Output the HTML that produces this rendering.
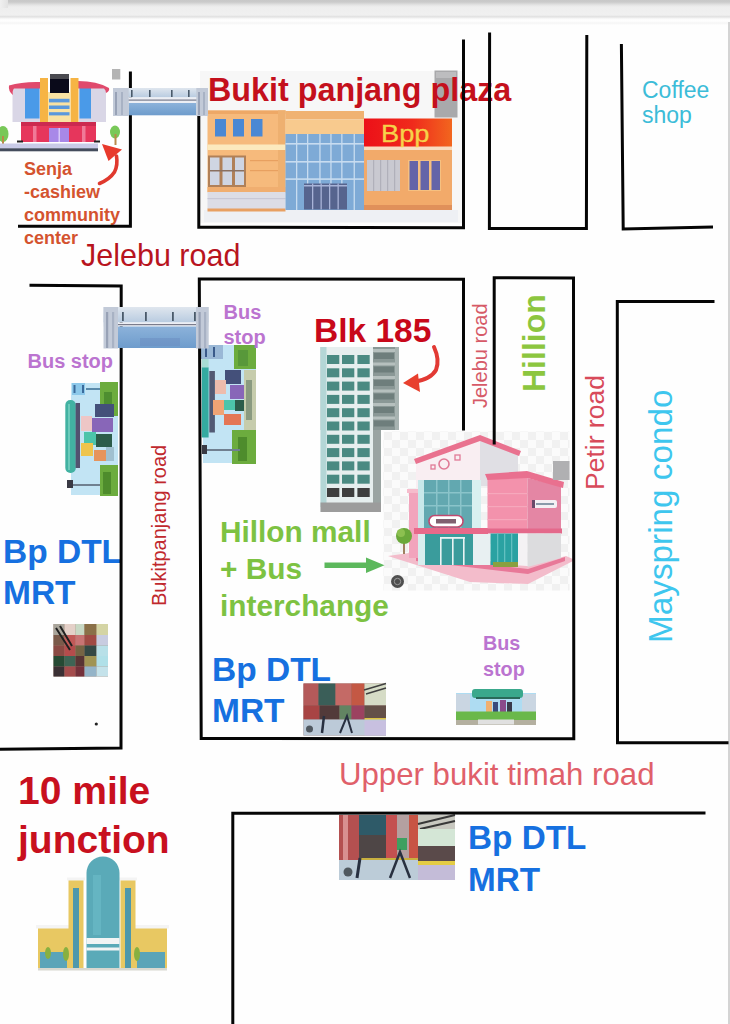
<!DOCTYPE html>
<html><head><meta charset="utf-8">
<style>
*{margin:0;padding:0;box-sizing:border-box}
html,body{width:730px;height:1024px;overflow:hidden;background:#fefefe}
body{position:relative;font-family:"Liberation Sans",sans-serif}
.a{position:absolute}
.t{position:absolute;white-space:nowrap;line-height:1}
.b{font-weight:bold}
.ln{position:absolute;background:#050505}
.rot{transform-origin:0 0;transform:rotate(-90deg)}
</style></head><body>
<!-- top bar -->
<div class="a" style="left:0;top:0;width:730px;height:25px;background:linear-gradient(#c8c8c8 0px,#cacaca 2px,#e4e4e4 5px,#eeeeee 7px,#f0f0f0 15px,#e1e1e1 16.7px,#fbfbfb 19px,#fefefe 21px,#f5f5f5 23px,#fefefe 25px)"></div>
<div class="a" style="left:0;top:0;width:8px;height:8px;background:linear-gradient(90deg,#f0f0f0,#e2e2e2)"></div>
<div class="a" style="left:728px;top:22px;width:2px;height:1002px;background:#d4d4d4"></div>

<svg class="a" style="left:0;top:0" width="730" height="1024" viewBox="0 0 730 1024"><!-- ===== Community center ===== -->
<g>
<ellipse cx="3" cy="134" rx="5.5" ry="8" fill="#78c858"/>
<rect x="2" y="136" width="2" height="10" fill="#b98a4a"/>
<ellipse cx="115" cy="132" rx="5" ry="6.5" fill="#78c858"/>
<rect x="114.5" y="134" width="2" height="11" fill="#b98a4a"/>
<rect x="12.5" y="87" width="27.5" height="35" fill="#d9d6e6"/>
<rect x="79" y="87" width="27" height="35" fill="#d9d6e6"/>
<rect x="25" y="88" width="14.5" height="30.5" fill="#4a9ae8"/>
<rect x="79.5" y="87.5" width="11.5" height="31" fill="#4a9ae8"/>
<path d="M9,85.5 Q22,81.5 40,82 L40,88.5 L14,88.5 Q12,91 13,95 Q8,91 9,85.5Z" fill="#e04a6c"/>
<path d="M109,88 Q97,81 78,81 L78,88.5 L104,88.5 Q106,90 106,93 Q110,91 109,88Z" fill="#e04a6c"/>
<rect x="40" y="78" width="8" height="44" fill="#f6b444"/>
<rect x="70.5" y="78" width="8" height="44" fill="#f6b444"/>
<rect x="48" y="92" width="22.5" height="30" fill="#f9e2a2"/>
<rect x="49" y="98.8" width="20.5" height="3.6" fill="#5a98dc"/>
<rect x="49" y="105.5" width="20.5" height="3.5" fill="#5a98dc"/>
<rect x="49" y="112.2" width="20.5" height="3.2" fill="#5a98dc"/>
<rect x="50" y="74" width="19" height="5" fill="#4a4a50"/>
<rect x="50" y="79" width="19" height="14" fill="#0a0a1a"/>
<rect x="21" y="122" width="75" height="20" fill="#e6365c"/>
<rect x="21" y="122" width="75" height="4" fill="#cc2a50"/>
<rect x="33" y="126" width="3.5" height="16" fill="#f07a98"/>
<rect x="82" y="126" width="3.5" height="16" fill="#f07a98"/>
<rect x="49" y="128" width="20" height="14" fill="#a888e8"/>
<rect x="58.5" y="128" width="1.5" height="14" fill="#d8c8f8"/>
<rect x="17" y="140.5" width="6" height="2" fill="#222"/>
<rect x="94" y="140.5" width="6" height="2" fill="#222"/>
<rect x="0" y="143.5" width="98" height="5" fill="#c9cbe7"/>
<rect x="0" y="148.3" width="98" height="3" fill="#444c5c"/>
<rect x="112" y="69" width="8.3" height="10.5" fill="#b4b4b4"/>
</g>
<!-- red curved arrow (community) -->
<path d="M99.5,183.5 Q110,179 114.5,172 Q118,165 116.5,156" fill="none" stroke="#e0392e" stroke-width="3.6" stroke-linecap="round"/>
<path d="M102,144 L122,149.5 L108.5,161Z" fill="#e83a2c"/>
<!-- ===== Bukit panjang plaza image ===== -->
<g>
<rect x="200" y="71" width="262" height="152" fill="#f7f7f7"/>
<rect x="204" y="210" width="254" height="12" fill="#eef0f4"/>
<!-- left block -->
<rect x="207.5" y="110.5" width="78" height="82" fill="#f6ba7c"/>
<rect x="207.5" y="110.5" width="78" height="3.5" fill="#eea866"/>
<rect x="278" y="110.5" width="7.5" height="82" fill="#eeb070"/>
<rect x="215" y="119" width="11" height="17.5" fill="#4a88d4"/>
<rect x="233" y="119" width="11" height="17.5" fill="#4a88d4"/>
<rect x="251" y="119" width="11.5" height="17.5" fill="#4a88d4"/>
<rect x="207.5" y="144.5" width="78" height="5.5" fill="#fce9bd"/>
<rect x="208" y="155.5" width="38" height="31.5" fill="#b08058"/>
<rect x="210" y="157.5" width="9.5" height="27.5" fill="#cfd5e2"/>
<rect x="222.5" y="157.5" width="9.5" height="27.5" fill="#cfd5e2"/>
<rect x="235" y="157.5" width="9" height="27.5" fill="#cfd5e2"/>
<rect x="210" y="170" width="34" height="1.5" fill="#8a7060"/>
<rect x="250" y="160" width="28" height="1.2" fill="#e8a060"/>
<rect x="250" y="170" width="28" height="1.2" fill="#e8a060"/>
<rect x="207.5" y="187" width="78" height="5" fill="#f0ae70"/>
<rect x="207.5" y="192" width="78" height="17.5" fill="#dcdde6"/>
<rect x="207.5" y="198" width="78" height="1.2" fill="#c8c8d6"/>
<rect x="207.5" y="208.5" width="78" height="3" fill="#e8a062"/>
<!-- middle block -->
<rect x="285.5" y="111" width="78.5" height="8.5" fill="#f0b272"/>
<rect x="285.5" y="119.5" width="78.5" height="15" fill="#f8ca8e"/>
<rect x="285.5" y="134" width="78.5" height="76" fill="#7eaad6"/>
<g fill="#c8dcf0">
<rect x="285.5" y="143" width="78.5" height="1.6"/>
<rect x="285.5" y="161" width="78.5" height="1.6"/>
<rect x="285.5" y="178.3" width="78.5" height="1.6"/>
<rect x="296" y="134" width="1.3" height="76"/>
<rect x="307" y="134" width="1.3" height="50"/>
<rect x="319.3" y="134" width="1.3" height="50"/>
<rect x="330.3" y="134" width="1.3" height="50"/>
<rect x="341.2" y="134" width="1.3" height="50"/>
<rect x="353.6" y="134" width="1.3" height="76"/>
</g>
<rect x="304" y="183.5" width="43" height="26" fill="#56648e"/>
<g fill="#a8b4d8"><rect x="304" y="185" width="43" height="1.5"/><rect x="312" y="183.5" width="1.3" height="26"/><rect x="320.5" y="183.5" width="1.3" height="26"/><rect x="329" y="183.5" width="1.3" height="26"/><rect x="337.5" y="183.5" width="1.3" height="26"/></g>
<!-- right block -->
<rect x="364" y="146" width="88" height="64" fill="#f2aa6a"/>
<rect x="364" y="146" width="88" height="4" fill="#f8dcc0"/>
<rect x="367" y="160" width="33" height="31" fill="#c9c9d1"/>
<g fill="#b0b0ba"><rect x="373" y="160" width="1.2" height="31"/><rect x="380" y="160" width="1.2" height="31"/><rect x="387" y="160" width="1.2" height="31"/><rect x="394" y="160" width="1.2" height="31"/></g>
<rect x="408" y="160" width="33" height="31" fill="#f6c080"/>
<rect x="409.5" y="161" width="8.5" height="29" fill="#6464a8"/>
<rect x="420.5" y="161" width="8.5" height="29" fill="#6464a8"/>
<rect x="431.5" y="161" width="8.5" height="29" fill="#6464a8"/>
<rect x="364" y="205" width="88" height="5" fill="#e0905a"/>
<!-- sign -->
<defs><linearGradient id="sg" x1="0" x2="1" y1="0" y2="0"><stop offset="0" stop-color="#ec1018"/><stop offset="0.55" stop-color="#f02a1c"/><stop offset="1" stop-color="#f2661e"/></linearGradient></defs>
<rect x="364" y="118.5" width="88" height="28" fill="url(#sg)"/>
<rect x="434.5" y="70.5" width="23" height="47" fill="#a9a9ab"/>
<rect x="436" y="72" width="20" height="6" fill="#bdbdbf"/>
</g>
<text x="381" y="141.5" font-family="Liberation Sans" font-size="24" fill="#f6d24a" stroke="#f6d24a" stroke-width="0.3" textLength="48.5" lengthAdjust="spacingAndGlyphs">Bpp</text>
<!-- ===== Bus stop left (rotated) ===== -->
<g>
<rect x="71" y="383" width="47" height="112" fill="#c2e4f4"/>
<rect x="72" y="383" width="13" height="12" fill="#8cc8ea"/>
<rect x="73.5" y="385" width="2" height="8" fill="#3a6a9a"/>
<rect x="82" y="385" width="2" height="8" fill="#3a6a9a"/>
<rect x="86" y="388" width="14" height="2" fill="#5a8aaa"/>
<rect x="100" y="382" width="18" height="34" fill="#6cac3e"/>
<rect x="104" y="392" width="8" height="20" fill="#4e8e30"/>
<rect x="100" y="465" width="18" height="31" fill="#6cac3e"/>
<rect x="103" y="472" width="8" height="22" fill="#4e8c2c"/>
<rect x="65.3" y="400" width="10.5" height="73" rx="5" fill="#42b2a2"/>
<rect x="68" y="404" width="2" height="66" fill="#6ccaba"/>
<rect x="75.6" y="403" width="4.4" height="65" fill="#525270"/>
<rect x="95" y="404" width="19" height="13" fill="#44507a"/>
<rect x="81" y="416" width="11" height="15" fill="#eec6c6"/>
<rect x="92" y="418" width="21" height="14" fill="#8866b8"/>
<rect x="84" y="432" width="12" height="13" fill="#4cc4aa"/>
<rect x="96" y="434" width="16" height="13" fill="#2c5c4a"/>
<rect x="81" y="443" width="12" height="13" fill="#eec44c"/>
<rect x="94" y="450" width="12" height="11" fill="#e6945c"/>
<rect x="106" y="447" width="8" height="14" fill="#a0c0d0"/>
<rect x="72" y="484" width="28" height="2" fill="#708090"/>
<rect x="67" y="480" width="6" height="8" fill="#3a3a44"/>
</g>
<!-- ===== Bus stop right (rotated) ===== -->
<g>
<rect x="203" y="345" width="53" height="118" fill="#c2e4f4"/>
<rect x="201" y="345" width="22" height="14" fill="#9ab8d6"/>
<rect x="205" y="347" width="2" height="10" fill="#3a5a8a"/>
<rect x="213" y="347" width="2" height="10" fill="#3a5a8a"/>
<rect x="234" y="345" width="22" height="24" fill="#6cac3e"/>
<rect x="238" y="350" width="10" height="16" fill="#58983a"/>
<rect x="232" y="430" width="24" height="34" fill="#6cac3e"/>
<rect x="238" y="437" width="9" height="24" fill="#4e8c2c"/>
<rect x="201.8" y="359" width="6.8" height="9" fill="#a8dcd4"/>
<rect x="201.8" y="367.5" width="6.8" height="70" fill="#34aaa0"/>
<rect x="209.3" y="371" width="5.6" height="61.5" fill="#525a74"/>
<rect x="225" y="370" width="16" height="14" fill="#44507a"/>
<rect x="215" y="380" width="11" height="14" fill="#eebcac"/>
<rect x="230" y="385" width="16" height="14" fill="#8866b8"/>
<rect x="224" y="400" width="11" height="10" fill="#4cc4aa"/>
<rect x="213" y="400" width="11" height="15" fill="#f0a474"/>
<rect x="235" y="400" width="11" height="11" fill="#2c5c4a"/>
<rect x="224" y="414" width="17" height="11" fill="#e47654"/>
<rect x="244" y="370" width="12" height="60" fill="#c6ccac"/>
<rect x="246" y="380" width="6" height="40" fill="#8a9a80"/>
<rect x="206" y="449" width="34" height="2" fill="#708090"/>
<rect x="202" y="445" width="5" height="9" fill="#3a3a44"/>
</g>
<!-- ===== Blk 185 ===== -->
<g>
<rect x="320.5" y="347" width="78" height="83" fill="#8a9a98"/>
<rect x="320.5" y="347" width="60" height="165" fill="#e6eeee"/>
<rect x="320.5" y="347" width="6" height="160" fill="#b4d6d6"/>
<rect x="373" y="347" width="25.5" height="83" fill="#8a9896"/>
<rect x="373" y="349.0" width="25.5" height="3" fill="#b6c0be"/>
<rect x="374" y="353.0" width="20" height="6" fill="#6e7e7c"/>
<rect x="373" y="362.5" width="25.5" height="3" fill="#b6c0be"/>
<rect x="374" y="366.5" width="20" height="6" fill="#6e7e7c"/>
<rect x="373" y="376.0" width="25.5" height="3" fill="#b6c0be"/>
<rect x="374" y="380.0" width="20" height="6" fill="#6e7e7c"/>
<rect x="373" y="389.5" width="25.5" height="3" fill="#b6c0be"/>
<rect x="374" y="393.5" width="20" height="6" fill="#6e7e7c"/>
<rect x="373" y="403.0" width="25.5" height="3" fill="#b6c0be"/>
<rect x="374" y="407.0" width="20" height="6" fill="#6e7e7c"/>
<rect x="373" y="416.5" width="25.5" height="3" fill="#b6c0be"/>
<rect x="374" y="420.5" width="20" height="6" fill="#6e7e7c"/>
<rect x="395" y="347" width="3.5" height="83" fill="#a8b4b2"/>
<rect x="373" y="430" width="8" height="73" fill="#9aa4a2"/>
<rect x="381" y="430" width="0" height="0"/>
</g>
<g fill="#4a8a82">
<rect x="327" y="355.0" width="12.3" height="9" fill="#4a8a82"/>
<rect x="342" y="355.0" width="12.3" height="9" fill="#4a8a82"/>
<rect x="357.4" y="355.0" width="12.3" height="9" fill="#4a8a82"/>
<rect x="327" y="368.3" width="12.3" height="9" fill="#4a8a82"/>
<rect x="342" y="368.3" width="12.3" height="9" fill="#4a8a82"/>
<rect x="357.4" y="368.3" width="12.3" height="9" fill="#4a8a82"/>
<rect x="327" y="381.6" width="12.3" height="9" fill="#4a8a82"/>
<rect x="342" y="381.6" width="12.3" height="9" fill="#4a8a82"/>
<rect x="357.4" y="381.6" width="12.3" height="9" fill="#4a8a82"/>
<rect x="327" y="394.9" width="12.3" height="9" fill="#4a8a82"/>
<rect x="342" y="394.9" width="12.3" height="9" fill="#4a8a82"/>
<rect x="357.4" y="394.9" width="12.3" height="9" fill="#4a8a82"/>
<rect x="327" y="408.2" width="12.3" height="9" fill="#4a8a82"/>
<rect x="342" y="408.2" width="12.3" height="9" fill="#4a8a82"/>
<rect x="357.4" y="408.2" width="12.3" height="9" fill="#4a8a82"/>
<rect x="327" y="421.5" width="12.3" height="9" fill="#4a8a82"/>
<rect x="342" y="421.5" width="12.3" height="9" fill="#4a8a82"/>
<rect x="357.4" y="421.5" width="12.3" height="9" fill="#4a8a82"/>
<rect x="327" y="434.8" width="12.3" height="9" fill="#4a8a82"/>
<rect x="342" y="434.8" width="12.3" height="9" fill="#4a8a82"/>
<rect x="357.4" y="434.8" width="12.3" height="9" fill="#4a8a82"/>
<rect x="327" y="448.1" width="12.3" height="9" fill="#4a8a82"/>
<rect x="342" y="448.1" width="12.3" height="9" fill="#4a8a82"/>
<rect x="357.4" y="448.1" width="12.3" height="9" fill="#4a8a82"/>
<rect x="327" y="461.4" width="12.3" height="9" fill="#4a8a82"/>
<rect x="342" y="461.4" width="12.3" height="9" fill="#4a8a82"/>
<rect x="357.4" y="461.4" width="12.3" height="9" fill="#4a8a82"/>
<rect x="327" y="474.7" width="12.3" height="9" fill="#4a8a82"/>
<rect x="342" y="474.7" width="12.3" height="9" fill="#4a8a82"/>
<rect x="357.4" y="474.7" width="12.3" height="9" fill="#4a8a82"/>
<rect x="327" y="488.0" width="12.3" height="9" fill="#3e3e3e"/>
<rect x="342" y="488.0" width="12.3" height="9" fill="#3e3e3e"/>
<rect x="357.4" y="488.0" width="12.3" height="9" fill="#3e3e3e"/>
</g>
<rect x="320.5" y="502.5" width="60.5" height="9.5" fill="#9c9c9c"/>
<!-- Blk arrow -->
<path d="M434,347 Q440,360 436,370 Q431,379 414,382" fill="none" stroke="#e23a34" stroke-width="4" stroke-linecap="round"/>
<path d="M403,383 L418,373.5 L420,392Z" fill="#e8402e"/>
<!-- ===== Hillion mall ===== -->
<defs>
<pattern id="chk" x="0" y="0" width="16" height="16" patternUnits="userSpaceOnUse">
<rect width="16" height="16" fill="#fbfbfb"/><rect width="8" height="8" fill="#f1f1f1"/><rect x="8" y="8" width="8" height="8" fill="#f1f1f1"/>
</pattern>
</defs>
<rect x="383.5" y="431.5" width="186" height="159" fill="url(#chk)"/>
<g>
<!-- ground platform -->
<path d="M388,556 L416,552 L528,566 L566,556 L575,560 L528,584 L470,582 Z" fill="#f3bccb"/>
<path d="M416,556 L528,569 L565,557 L565,561 L528,574 L416,561Z" fill="#e87898"/>
<!-- upper front block -->
<path d="M416,461 L480,438 L480,486 L416,492Z" fill="#f9eef2"/>
<path d="M480,438 L518,452 L518,486 L480,486Z" fill="#e0dfe4"/>
<path d="M414,459 L480,435 L521,451 L519,456 L480,441 L416,464Z" fill="#e9728f"/>
<circle cx="444" cy="464" r="5" fill="none" stroke="#e07a96" stroke-width="1.6"/>
<rect x="431" y="465" width="4" height="4" fill="none" stroke="#e07a96" stroke-width="1.3"/>
<rect x="455" y="455" width="5" height="5" fill="none" stroke="#e07a96" stroke-width="1.3"/>
<!-- pillar left -->
<rect x="409" y="491" width="9" height="67" fill="#f2a4bc"/>
<rect x="407" y="489" width="13" height="4" fill="#f6bccc"/>
<!-- teal glass upper -->
<rect x="418" y="480" width="62" height="48" fill="#c8e8ea"/>
<rect x="424" y="480" width="48" height="48" fill="#62a8b0"/>
<g fill="#8ac4ca"><rect x="424" y="492" width="48" height="1.5"/><rect x="424" y="505" width="48" height="1.5"/><rect x="436" y="480" width="1.5" height="48"/><rect x="448" y="480" width="1.5" height="48"/><rect x="460" y="480" width="1.5" height="48"/></g>
<rect x="472" y="480" width="9" height="53" fill="#d8f0f0"/>
<!-- MALL sign -->
<rect x="429" y="515.5" width="34" height="11.5" rx="5.7" fill="#fff" stroke="#c04a70" stroke-width="1.6"/>
<rect x="436" y="519" width="20" height="4.5" fill="#806070"/>
<!-- pink band -->
<rect x="414" y="528" width="74" height="6" fill="#e8698a"/>
<!-- lower glass -->
<rect x="418" y="534" width="55" height="31" fill="#3a9c9c"/>
<g fill="#e8f4f4"><rect x="440" y="537" width="1.6" height="28"/><rect x="452" y="537" width="1.6" height="28"/><rect x="463" y="537" width="1.6" height="28"/><rect x="440" y="537" width="25" height="1.8"/></g>
<rect x="418" y="534" width="7" height="31" fill="#d8eeee"/>
<rect x="473" y="534" width="17" height="31" fill="#e8f0f2"/>
<!-- right wing -->
<rect x="487.5" y="478" width="40" height="53" fill="#f392ac"/>
<g fill="#f6a8bc"><rect x="487.5" y="493" width="40" height="1.2"/><rect x="487.5" y="506" width="40" height="1.2"/><rect x="487.5" y="519" width="40" height="1.2"/></g>
<path d="M527.5,478 L561,486 L561,530 L527.5,531Z" fill="#e486a4"/>
<path d="M485,474 L527,471 L564,482 L563,488 L527.5,478 L487.5,480Z" fill="#e9708f"/>
<rect x="532" y="500" width="25" height="8" rx="2" fill="#f4f0f4"/>
<rect x="532" y="500" width="3" height="8" fill="#6a4a6a"/>
<rect x="536" y="503" width="18" height="2" fill="#8a9aaa"/>
<rect x="487" y="528.5" width="75" height="5" fill="#e4698b"/>
<rect x="490.5" y="533.5" width="27.5" height="31.5" fill="#2aa2a2"/>
<g fill="#62c0c0"><rect x="497" y="533.5" width="1.3" height="31"/><rect x="504" y="533.5" width="1.3" height="31"/><rect x="511" y="533.5" width="1.3" height="31"/></g>
<rect x="518" y="533.5" width="9.5" height="32" fill="#f4f2f4"/>
<path d="M527.5,533.5 L561,533.5 L561,558 L527.5,567Z" fill="#dcdcde"/>
<rect x="493" y="562" width="25" height="5" fill="#8aa040"/>
<!-- AC -->
<rect x="553" y="461" width="16.5" height="19" fill="#b0b0b2"/>
<!-- tree -->
<rect x="403" y="540" width="2" height="14" fill="#a08060"/>
<circle cx="404" cy="536" r="8" fill="#6aa83a"/>
<circle cx="401" cy="533" r="4" fill="#8cc050"/>
</g>
<!-- grey circle icon -->
<circle cx="397.5" cy="581.5" r="6.5" fill="#4e4e4e"/>
<circle cx="397.5" cy="581.5" r="3.2" fill="none" stroke="#9a9a9a" stroke-width="1"/>
<!-- green arrow -->
<rect x="324.5" y="562.5" width="45" height="5.5" fill="#5cb85c"/>
<path d="M366,557.5 L384.5,565.2 L366,573Z" fill="#5cb85c"/>
<!-- ===== small MRT photo (left) ===== -->
<g>
<rect x="53.5" y="624" width="54.5" height="52.5" fill="#a08070"/>
<rect x="53.5" y="624" width="11" height="11" fill="#a8a49a"/>
<rect x="64.5" y="624" width="11" height="11" fill="#e4d0c8"/>
<rect x="75.5" y="624" width="9" height="11" fill="#c8d8c4"/>
<rect x="84.5" y="624" width="12" height="11" fill="#8a7048"/>
<rect x="96.5" y="624" width="11.5" height="11" fill="#d4d4a4"/>
<rect x="53.5" y="635" width="11" height="10.5" fill="#7a5a4a"/>
<rect x="64.5" y="635" width="11" height="10.5" fill="#c25a58"/>
<rect x="75.5" y="635" width="9" height="10.5" fill="#c87474"/>
<rect x="84.5" y="635" width="12" height="10.5" fill="#a04a44"/>
<rect x="96.5" y="635" width="11.5" height="10.5" fill="#c8cce0"/>
<rect x="53.5" y="645.5" width="11" height="10.5" fill="#8a4a44"/>
<rect x="64.5" y="645.5" width="11" height="10.5" fill="#b44c4c"/>
<rect x="75.5" y="645.5" width="9" height="10.5" fill="#766444"/>
<rect x="84.5" y="645.5" width="12" height="10.5" fill="#344844"/>
<rect x="96.5" y="645.5" width="11.5" height="10.5" fill="#b8e0e8"/>
<rect x="53.5" y="656" width="11" height="10.5" fill="#264a34"/>
<rect x="64.5" y="656" width="11" height="10.5" fill="#3e6454"/>
<rect x="75.5" y="656" width="9" height="10.5" fill="#583434"/>
<rect x="84.5" y="656" width="12" height="10.5" fill="#a09454"/>
<rect x="96.5" y="656" width="11.5" height="10.5" fill="#b0e0e8"/>
<rect x="53.5" y="666.5" width="11" height="10" fill="#3a3034"/>
<rect x="64.5" y="666.5" width="11" height="10" fill="#a44c4c"/>
<rect x="75.5" y="666.5" width="9" height="10" fill="#74303a"/>
<rect x="84.5" y="666.5" width="12" height="10" fill="#94b4c8"/>
<rect x="96.5" y="666.5" width="11.5" height="10" fill="#c4e2ea"/>
<path d="M56,628 L70,650 M60,626 L72,646" stroke="#202020" stroke-width="2"/>
</g>
<!-- ===== MRT photo 2 (middle) ===== -->
<g>
<rect x="303.5" y="683.5" width="82.5" height="52" fill="#8a6a64"/>
<rect x="303.5" y="683.5" width="15" height="22" fill="#b45a5a"/>
<rect x="318.5" y="683.5" width="17" height="22" fill="#3a5e58"/>
<rect x="335.5" y="683.5" width="16" height="22" fill="#c46a66"/>
<rect x="351.5" y="683.5" width="13" height="22" fill="#c45844"/>
<rect x="364.5" y="683.5" width="21.5" height="22" fill="#d6dcc6"/>
<path d="M364,690 L386,683.5 M366,694 L386,688" stroke="#404040" stroke-width="1.5"/>
<rect x="303.5" y="705.5" width="16" height="14" fill="#a84444"/>
<rect x="319.5" y="705.5" width="20" height="14" fill="#523a3a"/>
<rect x="339.5" y="705.5" width="12" height="14" fill="#628462"/>
<rect x="351.5" y="705.5" width="13" height="14" fill="#9c4260"/>
<rect x="364.5" y="705.5" width="21.5" height="14" fill="#645048"/>
<rect x="364.5" y="718" width="21.5" height="2.5" fill="#dcc244"/>
<rect x="303.5" y="719.5" width="82.5" height="16" fill="#bccad8"/>
<rect x="364.5" y="720.5" width="21.5" height="15" fill="#c8c0e0"/>
<path d="M340,733 L347,716 L352,733" fill="none" stroke="#283040" stroke-width="2"/>
<path d="M322,733 L324,716" stroke="#283040" stroke-width="2.5"/>
<circle cx="309.5" cy="729" r="3.5" fill="#505860"/>
</g>
<!-- ===== Bus stop icon ===== -->
<g>
<rect x="456" y="693" width="80" height="19" fill="#aedcf2"/>
<rect x="456" y="694" width="14" height="18" fill="#cad6e2"/>
<rect x="522" y="694" width="14" height="18" fill="#cad6e2"/>
<rect x="472" y="689" width="51" height="9" rx="3" fill="#3aa88c"/>
<rect x="476" y="697" width="44" height="2" fill="#2a6a5a"/>
<rect x="486" y="701" width="6" height="12" fill="#f0b070"/>
<rect x="493" y="702" width="5" height="11" fill="#3a4a7a"/>
<rect x="500" y="700" width="6" height="13" fill="#8a4a8a"/>
<rect x="507" y="702" width="5" height="11" fill="#3a3a4a"/>
<rect x="456" y="711.5" width="80" height="8.5" fill="#6ab84a"/>
<rect x="456" y="720" width="80" height="5" fill="#b4b0a0"/>
<rect x="478" y="719.5" width="36" height="5" fill="#e0e0e0"/>
</g>
<!-- ===== 10 mile junction ===== -->
<g>
<rect x="38" y="927.5" width="31" height="42.5" fill="#e8c862"/>
<rect x="135" y="927.5" width="32" height="42.5" fill="#e8c862"/>
<rect x="36" y="925" width="34" height="3.5" fill="#f4f4f4"/>
<rect x="134" y="925" width="35" height="3.5" fill="#f4f4f4"/>
<rect x="40" y="952" width="27" height="17" fill="#5aa4b8"/>
<rect x="137" y="952" width="28" height="17" fill="#5aa4b8"/>
<rect x="68.5" y="880" width="15" height="90" fill="#e8c862"/>
<rect x="120.5" y="880" width="15" height="90" fill="#e8c862"/>
<rect x="67" y="877.5" width="18" height="3" fill="#f4f4f4"/>
<rect x="119" y="877.5" width="18" height="3" fill="#f4f4f4"/>
<rect x="73" y="888" width="6" height="82" fill="#4e98ac"/>
<rect x="125" y="888" width="6" height="82" fill="#4e98ac"/>
<path d="M86.5,970 L86.5,873 A16.5,16.5 0 0 1 119.5,873 L119.5,970Z" fill="#5aaab8"/>
<rect x="93" y="875" width="8" height="60" fill="#6cbcc8" opacity="0.6"/>
<rect x="86.5" y="938" width="33" height="6" fill="#f2f4f4"/>
<rect x="86.5" y="947.5" width="33" height="3" fill="#f2f4f4"/>
<ellipse cx="48" cy="953" rx="3" ry="6" fill="#88b040"/>
<ellipse cx="66" cy="954" rx="3" ry="7" fill="#88b040"/>
<ellipse cx="137" cy="954" rx="3" ry="7" fill="#88b040"/>
<rect x="38" y="968" width="129" height="2.5" fill="#d8d8d0"/>
</g>
<!-- ===== MRT photo 3 (bottom) ===== -->
<g>
<rect x="339" y="815" width="116" height="65" fill="#8a7068"/>
<rect x="339" y="815" width="20" height="45" fill="#b45050"/>
<rect x="343" y="815" width="5" height="45" fill="#d89090"/>
<rect x="359" y="815" width="27" height="20" fill="#2e5a68"/>
<rect x="359" y="835" width="27" height="24" fill="#4e4646"/>
<rect x="386" y="815" width="11" height="45" fill="#c45050"/>
<rect x="397" y="815" width="12" height="45" fill="#b4a0a0"/>
<rect x="397" y="838" width="10" height="12" fill="#3ea060"/>
<rect x="409" y="815" width="9" height="45" fill="#c85444"/>
<rect x="418" y="815" width="37" height="14" fill="#c8c8c0"/>
<path d="M418,824 L455,815 M420,829 L455,821" stroke="#383838" stroke-width="2"/>
<rect x="418" y="829" width="37" height="17" fill="#d4e6d6"/>
<rect x="418" y="846" width="37" height="16" fill="#5a4a4a"/>
<rect x="359" y="858" width="59" height="3" fill="#c8b040"/>
<rect x="418" y="861" width="37" height="4" fill="#e4cc44"/>
<rect x="339" y="860" width="79" height="20" fill="#bcccd8"/>
<rect x="418" y="865" width="37" height="15" fill="#c4bcd8"/>
<path d="M390,878 L400,852 L410,878" fill="none" stroke="#283040" stroke-width="2.5"/>
<path d="M357,878 L360,858" stroke="#283040" stroke-width="3"/>
<circle cx="348" cy="872" r="4.5" fill="#50585e"/>
</g>
<circle cx="96.3" cy="724" r="1.6" fill="#222"/>
</svg>

<div class="t b" style="left:208px;top:74px;font-size:32.3px;color:#c4101c">Bukit panjang plaza</div>
<div class="t" style="left:642px;top:78px;font-size:23px;color:#3cbcd8;line-height:25px">Coffee<br>shop</div>
<div class="t b" style="left:24px;top:158px;font-size:18px;color:#d4532f;line-height:23px">Senja<br>-cashiew<br>community<br>center</div>
<div class="t" style="left:81px;top:240px;font-size:30.5px;color:#b8141e">Jelebu road</div>

<div class="t b" style="left:27.5px;top:351px;font-size:20px;color:#bb74d0">Bus stop</div>
<div class="t b" style="left:223.5px;top:300px;font-size:20px;color:#bb74d0;line-height:25px">Bus<br>stop</div>
<div class="t b" style="left:314px;top:314px;font-size:33.5px;color:#c8081a">Blk 185</div>

<div class="t b" style="left:3px;top:531px;font-size:33.5px;color:#1670e0;line-height:41px">Bp DTL<br>MRT</div>
<div class="t b" style="left:220px;top:513px;font-size:29.8px;color:#7dc242;line-height:37.2px">Hillon mall<br>+ Bus<br>interchange</div>
<div class="t b" style="left:212px;top:650px;font-size:33.5px;color:#1670e0;line-height:40.5px">Bp DTL<br>MRT</div>
<div class="t b" style="left:483px;top:630px;font-size:19.8px;color:#bb74d0;line-height:26px">Bus<br>stop</div>

<div class="t" style="left:339px;top:759px;font-size:31.2px;color:#e0606a">Upper bukit timah road</div>
<div class="t b" style="left:18px;top:767px;font-size:39px;color:#c8101e;line-height:48.5px">10 mile<br>junction</div>
<div class="t b" style="left:468px;top:817px;font-size:33.3px;color:#1670e0;line-height:41.7px">Bp DTL<br>MRT</div>

<!-- rotated texts -->
<div class="t rot" style="left:470px;top:408px;font-size:20px;color:#d65a68">Jelebu road</div>
<div class="t b rot" style="left:518px;top:392px;font-size:32px;color:#8cc63f">Hillion</div>
<div class="t rot" style="left:582px;top:490px;font-size:26.5px;color:#d84a5a">Petir road</div>
<div class="t rot" style="left:644px;top:643px;font-size:33.3px;color:#3ec6ee">Mayspring condo</div>
<div class="t rot" style="left:149px;top:606px;font-size:20px;color:#c0282d">Bukitpanjang road</div>


<svg class="a" style="left:0;top:0" width="730" height="1024" viewBox="0 0 730 1024">
<g fill="none" stroke="#050505" stroke-width="3" stroke-linecap="square" stroke-linejoin="miter">
<!-- top -->
<polyline points="130.4,73 130.4,226.2 19.5,226.2"/>
<polyline points="198.8,116 198.8,227.2 463.5,227.7 463.5,41"/>
<polyline points="489.6,34 489.4,228.5 586.4,228.5 586.8,36.5"/>
<polyline points="621.4,45.5 623.2,229 711.5,227"/>
<!-- middle -->
<polyline points="31,285.3 121.2,286 121,748 1,749.3"/>
<polyline points="463.5,429 463.5,279.3 199.3,278.9 201.2,738.4 573.8,738.8 573.5,278 494.2,277.7 494.2,443"/>
<polyline points="713,301.5 617.3,301.5 617.5,742.8 727,742.8"/>
<!-- bottom -->
<polyline points="232.8,1026 232.8,813.3 704,813"/>
</g>
</svg>
<svg class="a" style="left:0;top:0" width="730" height="1024" viewBox="0 0 730 1024"><!-- ===== Bridge 1 ===== -->
<g>
<defs>
<linearGradient id="bgl" x1="0" x2="0" y1="0" y2="1"><stop offset="0" stop-color="#dfe6ee"/><stop offset="1" stop-color="#b8cbe0"/></linearGradient>
<linearGradient id="bdk" x1="0" x2="0" y1="0" y2="1"><stop offset="0" stop-color="#8cb2da"/><stop offset="1" stop-color="#6e9ccc"/></linearGradient>
</defs>
<rect x="113" y="88" width="95" height="9.5" fill="url(#bgl)"/>
<rect x="113" y="97.3" width="95" height="5.8" fill="#eceef4"/>
<rect x="116" y="99.5" width="89" height="1.2" fill="#7a7c8c"/>
<rect x="128.7" y="103" width="67.6" height="12.3" fill="url(#bdk)"/>
<rect x="113" y="88" width="15.7" height="28" fill="#c2cad8"/>
<rect x="115" y="92" width="2" height="23" fill="#98a2b6"/>
<rect x="121" y="92" width="2" height="23" fill="#a8b2c4"/>
<rect x="196.3" y="88" width="11.7" height="28" fill="#c2cad8"/>
<rect x="198" y="92" width="2" height="23" fill="#98a2b6"/>
<rect x="203" y="92" width="2" height="23" fill="#a8b2c4"/>
<g fill="#4a5a6a"><rect x="131" y="90" width="1.6" height="7"/><rect x="149" y="90" width="1.6" height="7"/><rect x="171" y="90" width="1.6" height="7"/><rect x="188" y="90" width="1.6" height="7"/></g>
</g>
<!-- ===== Bridge 2 ===== -->
<g>
<rect x="103.5" y="307" width="105" height="15.5" fill="url(#bgl)"/>
<rect x="103.5" y="322.5" width="105" height="4" fill="#eceef4"/>
<rect x="106" y="324" width="100" height="1.2" fill="#7a7c8c"/>
<rect x="118" y="326.5" width="80" height="21.5" fill="url(#bdk)"/>
<rect x="103.5" y="307" width="14.5" height="41.5" fill="#c2cad8"/>
<rect x="106" y="312" width="2.2" height="36" fill="#98a2b6"/>
<rect x="112" y="312" width="2.2" height="36" fill="#a8b2c4"/>
<rect x="196" y="307" width="12.7" height="41.5" fill="#c2cad8"/>
<rect x="198.5" y="312" width="2.2" height="36" fill="#98a2b6"/>
<rect x="204" y="312" width="2.2" height="36" fill="#a8b2c4"/>
<g fill="#4a5a6a"><rect x="122" y="312" width="1.8" height="9"/><rect x="145" y="312" width="1.8" height="9"/><rect x="172" y="312" width="1.8" height="9"/><rect x="194" y="312" width="1.8" height="9"/></g>
<rect x="140" y="338" width="40" height="8" fill="#6a8cc0" opacity="0.5"/>
</g>
</svg>
</body></html>
